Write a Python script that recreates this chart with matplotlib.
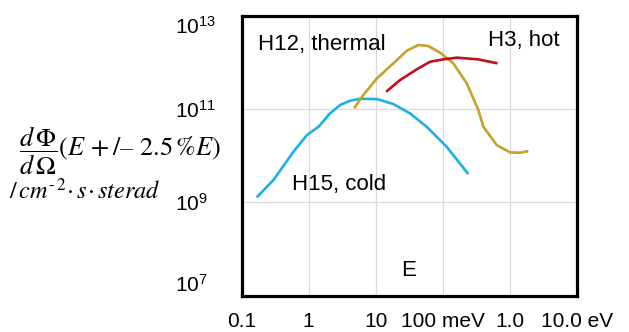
import matplotlib
matplotlib.use("Agg")
import matplotlib.pyplot as plt

plt.rcParams['font.family'] = ['Liberation Sans', 'DejaVu Sans']

# H15, cold (blue)
cold_E = [0.168, 0.298, 0.592, 0.94, 1.40, 2.08, 2.94, 4.14, 5.83, 10.4, 18.3, 32.4, 57.5, 114, 240]
cold_F = [1.27e9, 2.98e9, 1.2e10, 2.74e10, 4.13e10, 8.0e10, 1.21e11, 1.49e11, 1.65e11, 1.62e11,
          1.27e11, 8.0e10, 4.13e10, 1.54e10, 4.0e9]

# H12, thermal (gold)
thermal_E = [4.75, 6.53, 10.4, 18.3, 29.0, 43.1, 60.8, 90.8, 143, 227, 338, 402, 636, 1003, 1415, 1880]
thermal_F = [1.03e11, 1.98e11, 4.5e11, 9.45e11, 1.76e12, 2.33e12, 2.22e12, 1.6e12, 9.45e11, 3.52e11,
             9.4e10, 4.13e10, 1.67e10, 1.17e10, 1.15e10, 1.25e10]

# H3, hot (red)
hot_E = [14.3, 23.0, 40.8, 64.4, 102, 161, 335, 653]
hot_F = [2.33e11, 4.14e11, 7.03e11, 1.02e12, 1.15e12, 1.25e12, 1.15e12, 9.45e11]

x_ticks = [0.1, 1, 10, 100, 1000, 10000]
x_labels = ["0.1", "1", "10", "100 meV", "1.0", "10.0 eV"]
y_ticks = [1e7, 1e9, 1e11, 1e13]
y_labels = [r"$\mathregular{10^{7}}$", r"$\mathregular{10^{9}}$",
            r"$\mathregular{10^{11}}$", r"$\mathregular{10^{13}}$"]

fig = plt.figure(figsize=(6.29, 3.32), dpi=100)
ax = fig.add_axes([0.384, 0.1096, 0.5335, 0.8437])

ax.plot(cold_E, cold_F, color='#1cb0e6', lw=1.9, solid_capstyle='butt', solid_joinstyle='round')
ax.plot(thermal_E, thermal_F, color='#c9a02a', lw=1.9, solid_capstyle='butt', solid_joinstyle='round')
ax.plot(hot_E, hot_F, color='#c0101c', lw=1.9, solid_capstyle='butt', solid_joinstyle='round')

ax.set_xscale('log')
ax.set_yscale('log')
ax.set_xlim(0.1, 10000)
ax.set_ylim(1e7, 1e13)
ax.set_xticks(x_ticks)
ax.set_xticklabels(x_labels, fontsize=15)
ax.set_yticks(y_ticks)
ax.set_yticklabels(y_labels, fontsize=15)
ax.minorticks_off()
ax.tick_params(axis='both', length=0)
ax.tick_params(axis='x', pad=12)
ax.tick_params(axis='y', pad=48)
for lab in ax.get_yticklabels():
    lab.set_ha('left')
    if lab.get_text().endswith("{13}}$"):
        lab.set_va('top')
    elif lab.get_text().endswith("{7}}$"):
        lab.set_va('bottom')

ax.grid(True, color='#d9d9d9', lw=0.9)
ax.set_axisbelow(True)
for s in ax.spines.values():
    s.set_linewidth(2.3)
    s.set_color('black')

ax.text(0.049, 0.895, "H12, thermal", transform=ax.transAxes, fontsize=16, va='center', ha='left')
ax.text(0.733, 0.9125, "H3, hot", transform=ax.transAxes, fontsize=16, va='center', ha='left')
ax.text(0.15, 0.395, "H15, cold", transform=ax.transAxes, fontsize=16, va='center', ha='left')
ax.text(0.497, 0.089, "E", transform=ax.transAxes, fontsize=16, va='center', ha='center')

fig.text(19 / 629, 1 - 151 / 332, r"$\dfrac{d\,\Phi}{d\,\Omega}\left(E\,+/\text{–}\ 2.5\,\%E\right)$",
         math_fontfamily='stix', fontsize=19, ha='left', va='center')
fig.text(9 / 629, 1 - 191 / 332, r"$/\,cm^{\text{-}\,2}\!\cdot s\!\cdot sterad$",
         math_fontfamily='stix', fontsize=17.5, ha='left', va='center')

fig.savefig("out.png", dpi=100)
